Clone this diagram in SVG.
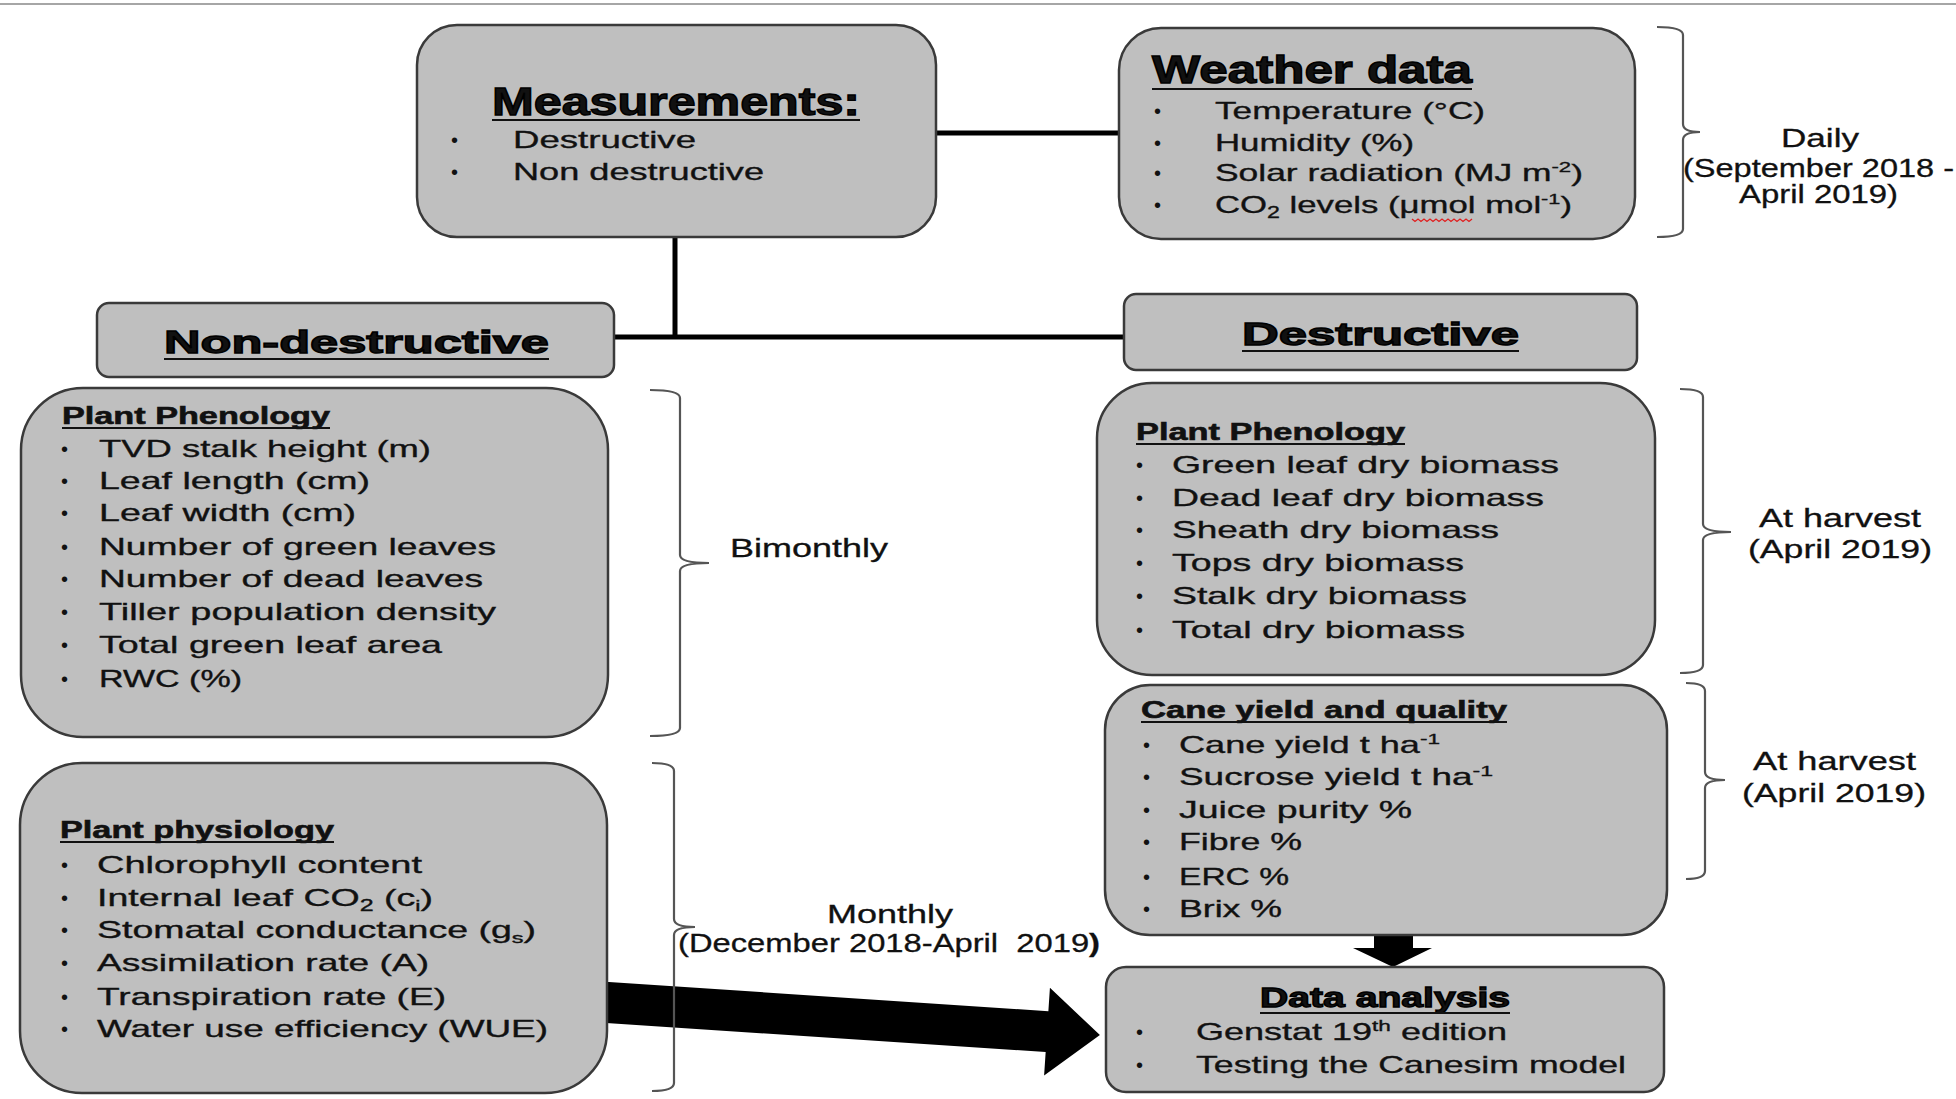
<svg xmlns="http://www.w3.org/2000/svg" width="1956" height="1099" viewBox="0 0 1956 1099">
<style>
.box{fill:#bfbfbf;stroke:#3a3a3a;stroke-width:2.5}
text{font-family:"Liberation Sans",Arial,Helvetica,sans-serif;fill:#111}
.it{font-size:24px;stroke:#111;stroke-width:0.35}
.bl{font-size:20px}
.h1{font-weight:bold;stroke:#000;stroke-width:1.3}
.sub{font-size:24px;font-weight:bold;stroke:#111;stroke-width:0.6}
.ul{stroke:#111;stroke-width:2}
.br{fill:none;stroke:#555;stroke-width:2.2}
.conn{stroke:#000;stroke-width:5;fill:none}
.lab{font-size:25px;stroke:#111;stroke-width:0.3}
.arrow{fill:#000}
</style>
<line x1="0" y1="4" x2="1956" y2="4" stroke="#a6a6a6" stroke-width="2"/>

<g id="connectors">
  <line class="conn" x1="936" y1="133" x2="1119" y2="133"/>
  <line class="conn" x1="675" y1="237" x2="675" y2="337"/>
  <line class="conn" x1="614" y1="337" x2="1124" y2="337"/>
  <polygon class="arrow" transform="translate(600,1002) rotate(3.79)" points="0,-20.5 448,-20.5 448,-44 501,0 448,44 448,20.5 0,20.5"/>
  <polygon class="arrow" points="1374,933 1413,933 1413,948 1432,948 1393,967 1353,948 1374,948"/>
</g>

<g id="measurements">
  <rect class="box" x="417" y="25" width="519" height="212" rx="40"/>
  <text class="h1" x="492" y="115" font-size="39" textLength="368" lengthAdjust="spacingAndGlyphs">Measurements:</text>
  <line class="ul" x1="492" y1="120" x2="860" y2="120"/>
  <text class="bl" x="451" y="147">•</text>
  <text class="bl" x="451" y="179">•</text>
  <text class="it" x="513" y="148" textLength="183" lengthAdjust="spacingAndGlyphs">Destructive</text>
  <text class="it" x="513" y="180" textLength="251" lengthAdjust="spacingAndGlyphs">Non destructive</text>
</g>

<g id="weather">
  <rect class="box" x="1119" y="28" width="516" height="211" rx="42"/>
  <text class="h1" x="1152" y="83" font-size="38" textLength="320" lengthAdjust="spacingAndGlyphs">Weather data</text>
  <line class="ul" x1="1152" y1="89" x2="1472" y2="89"/>
  <text class="bl" x="1154" y="118">•</text>
  <text class="bl" x="1154" y="150">•</text>
  <text class="bl" x="1154" y="180">•</text>
  <text class="bl" x="1154" y="212">•</text>
  <text class="it" x="1215" y="119" textLength="270" lengthAdjust="spacingAndGlyphs">Temperature (°C)</text>
  <text class="it" x="1215" y="151" textLength="199" lengthAdjust="spacingAndGlyphs">Humidity (%)</text>
  <text class="it" x="1215" y="181" textLength="368" lengthAdjust="spacingAndGlyphs">Solar radiation (MJ m<tspan dy="-9" font-size="15">-2</tspan><tspan dy="9">)</tspan></text>
  <text class="it" x="1215" y="213" textLength="357" lengthAdjust="spacingAndGlyphs">CO<tspan dy="5" font-size="16">2</tspan><tspan dy="-5"> levels (μmol mol</tspan><tspan dy="-9" font-size="15">-1</tspan><tspan dy="9">)</tspan></text>
  <path d="M1412 219 l3 2.5 l3 -2.5 l3 2.5 l3 -2.5 l3 2.5 l3 -2.5 l3 2.5 l3 -2.5 l3 2.5 l3 -2.5 l3 2.5 l3 -2.5 l3 2.5 l3 -2.5 l3 2.5 l3 -2.5 l3 2.5 l3 -2.5 l3 2.5 l3 -2.5" fill="none" stroke="#e02020" stroke-width="1.3"/>
</g>

<g id="daily-label">
  <path class="br" d="M1657,27 Q1683,27 1683,35 V124 Q1683,132 1700,132 Q1683,132 1683,140 V229 Q1683,237 1657,237"/>
  <text class="lab" x="1781" y="147" textLength="78" lengthAdjust="spacingAndGlyphs">Daily</text>
  <text class="lab" x="1683" y="177" textLength="271" lengthAdjust="spacingAndGlyphs">(September 2018 -</text>
  <text class="lab" x="1739" y="203" textLength="159" lengthAdjust="spacingAndGlyphs">April 2019)</text>
</g>

<g id="non-destructive">
  <rect class="box" x="97" y="303" width="517" height="74" rx="12"/>
  <text class="h1" x="164" y="353" font-size="32" textLength="385" lengthAdjust="spacingAndGlyphs">Non-destructive</text>
  <line class="ul" x1="164" y1="359" x2="549" y2="359"/>
</g>

<g id="destructive">
  <rect class="box" x="1124" y="294" width="513" height="76" rx="12"/>
  <text class="h1" x="1242" y="345" font-size="32" textLength="277" lengthAdjust="spacingAndGlyphs">Destructive</text>
  <line class="ul" x1="1242" y1="351" x2="1519" y2="351"/>
</g>

<g id="nd-phenology">
  <rect class="box" x="21" y="388" width="587" height="349" rx="62"/>
  <text class="sub" x="62" y="424" textLength="268" lengthAdjust="spacingAndGlyphs">Plant Phenology</text>
  <line class="ul" x1="62" y1="428" x2="330" y2="428"/>
  <text class="bl" x="61" y="456">•</text>
  <text class="bl" x="61" y="488">•</text>
  <text class="bl" x="61" y="520">•</text>
  <text class="bl" x="61" y="554">•</text>
  <text class="bl" x="61" y="586">•</text>
  <text class="bl" x="61" y="619">•</text>
  <text class="bl" x="61" y="652">•</text>
  <text class="bl" x="61" y="686">•</text>
  <text class="it" x="99" y="457" textLength="332" lengthAdjust="spacingAndGlyphs">TVD stalk height (m)</text>
  <text class="it" x="99" y="489" textLength="271" lengthAdjust="spacingAndGlyphs">Leaf length (cm)</text>
  <text class="it" x="99" y="521" textLength="257" lengthAdjust="spacingAndGlyphs">Leaf width (cm)</text>
  <text class="it" x="99" y="555" textLength="397" lengthAdjust="spacingAndGlyphs">Number of green leaves</text>
  <text class="it" x="99" y="587" textLength="384" lengthAdjust="spacingAndGlyphs">Number of dead leaves</text>
  <text class="it" x="99" y="620" textLength="397" lengthAdjust="spacingAndGlyphs">Tiller population density</text>
  <text class="it" x="99" y="653" textLength="343" lengthAdjust="spacingAndGlyphs">Total green leaf area</text>
  <text class="it" x="99" y="687" textLength="143" lengthAdjust="spacingAndGlyphs">RWC (%)</text>
</g>

<g id="bimonthly-label">
  <path class="br" d="M650,390 Q680,390 680,398 V555 Q680,563 709,563 Q680,563 680,571 V728 Q680,736 650,736"/>
  <text class="lab" x="730" y="557" textLength="158" lengthAdjust="spacingAndGlyphs">Bimonthly</text>
</g>

<g id="physiology">
  <rect class="box" x="20" y="763" width="587" height="330" rx="62"/>
  <text class="sub" x="60" y="838" textLength="274" lengthAdjust="spacingAndGlyphs">Plant physiology</text>
  <line class="ul" x1="60" y1="842" x2="334" y2="842"/>
  <text class="bl" x="61" y="872">•</text>
  <text class="bl" x="61" y="905">•</text>
  <text class="bl" x="61" y="937">•</text>
  <text class="bl" x="61" y="970">•</text>
  <text class="bl" x="61" y="1004">•</text>
  <text class="bl" x="61" y="1036">•</text>
  <text class="it" x="97" y="873" textLength="325" lengthAdjust="spacingAndGlyphs">Chlorophyll content</text>
  <text class="it" x="97" y="906" textLength="336" lengthAdjust="spacingAndGlyphs">Internal leaf CO<tspan dy="5" font-size="16">2</tspan><tspan dy="-5"> (c</tspan><tspan dy="5" font-size="15">i</tspan><tspan dy="-5">)</tspan></text>
  <text class="it" x="97" y="938" textLength="439" lengthAdjust="spacingAndGlyphs">Stomatal conductance (g<tspan dy="5" font-size="15">s</tspan><tspan dy="-5">)</tspan></text>
  <text class="it" x="97" y="971" textLength="332" lengthAdjust="spacingAndGlyphs">Assimilation rate (A)</text>
  <text class="it" x="97" y="1005" textLength="349" lengthAdjust="spacingAndGlyphs">Transpiration rate (E)</text>
  <text class="it" x="97" y="1037" textLength="451" lengthAdjust="spacingAndGlyphs">Water use efficiency (WUE)</text>
</g>

<g id="monthly-label">
  <path class="br" d="M652,763 Q674,763 674,771 V919 Q674,927 695,927 Q674,927 674,935 V1083 Q674,1091 652,1091"/>
  <text class="lab" x="827" y="923" textLength="126" lengthAdjust="spacingAndGlyphs">Monthly</text>
  <text class="lab" x="678" y="952" textLength="422" lengthAdjust="spacingAndGlyphs">(December 2018-April&#160; 2019<tspan font-weight="bold">)</tspan></text>
</g>

<g id="d-phenology">
  <rect class="box" x="1097" y="383" width="558" height="292" rx="55"/>
  <text class="sub" x="1136" y="440" textLength="269" lengthAdjust="spacingAndGlyphs">Plant Phenology</text>
  <line class="ul" x1="1136" y1="444" x2="1405" y2="444"/>
  <text class="bl" x="1136" y="472">•</text>
  <text class="bl" x="1136" y="505">•</text>
  <text class="bl" x="1136" y="537">•</text>
  <text class="bl" x="1136" y="570">•</text>
  <text class="bl" x="1136" y="603">•</text>
  <text class="bl" x="1136" y="637">•</text>
  <text class="it" x="1172" y="473" textLength="387" lengthAdjust="spacingAndGlyphs">Green leaf dry biomass</text>
  <text class="it" x="1172" y="506" textLength="372" lengthAdjust="spacingAndGlyphs">Dead leaf dry biomass</text>
  <text class="it" x="1172" y="538" textLength="327" lengthAdjust="spacingAndGlyphs">Sheath dry biomass</text>
  <text class="it" x="1172" y="571" textLength="292" lengthAdjust="spacingAndGlyphs">Tops dry biomass</text>
  <text class="it" x="1172" y="604" textLength="295" lengthAdjust="spacingAndGlyphs">Stalk dry biomass</text>
  <text class="it" x="1172" y="638" textLength="293" lengthAdjust="spacingAndGlyphs">Total dry biomass</text>
</g>

<g id="harvest-label-1">
  <path class="br" d="M1680,389 Q1703,389 1703,397 V524 Q1703,532 1731,532 Q1703,532 1703,540 V665 Q1703,673 1680,673"/>
  <text class="lab" x="1759" y="527" textLength="162" lengthAdjust="spacingAndGlyphs">At harvest</text>
  <text class="lab" x="1748" y="558" textLength="184" lengthAdjust="spacingAndGlyphs">(April 2019)</text>
</g>

<g id="cane-yield">
  <rect class="box" x="1105" y="685" width="562" height="250" rx="45"/>
  <text class="sub" x="1141" y="718" textLength="366" lengthAdjust="spacingAndGlyphs">Cane yield and quality</text>
  <line class="ul" x1="1141" y1="722" x2="1507" y2="722"/>
  <text class="bl" x="1143" y="752">•</text>
  <text class="bl" x="1143" y="784">•</text>
  <text class="bl" x="1143" y="817">•</text>
  <text class="bl" x="1143" y="849">•</text>
  <text class="bl" x="1143" y="884">•</text>
  <text class="bl" x="1143" y="916">•</text>
  <text class="it" x="1179" y="753" textLength="261" lengthAdjust="spacingAndGlyphs">Cane yield t ha<tspan dy="-9" font-size="15">-1</tspan></text>
  <text class="it" x="1179" y="785" textLength="314" lengthAdjust="spacingAndGlyphs">Sucrose yield t ha<tspan dy="-9" font-size="15">-1</tspan></text>
  <text class="it" x="1179" y="818" textLength="233" lengthAdjust="spacingAndGlyphs">Juice purity %</text>
  <text class="it" x="1179" y="850" textLength="123" lengthAdjust="spacingAndGlyphs">Fibre %</text>
  <text class="it" x="1179" y="885" textLength="110" lengthAdjust="spacingAndGlyphs">ERC %</text>
  <text class="it" x="1179" y="917" textLength="103" lengthAdjust="spacingAndGlyphs">Brix %</text>
</g>

<g id="harvest-label-2">
  <path class="br" d="M1686,683 Q1705,683 1705,691 V772 Q1705,780 1725,780 Q1705,780 1705,788 V871 Q1705,879 1686,879"/>
  <text class="lab" x="1753" y="770" textLength="163" lengthAdjust="spacingAndGlyphs">At harvest</text>
  <text class="lab" x="1742" y="802" textLength="184" lengthAdjust="spacingAndGlyphs">(April 2019)</text>
</g>

<g id="data-analysis">
  <rect class="box" x="1106" y="967" width="558" height="125" rx="20"/>
  <text class="h1" x="1260" y="1007" font-size="28" textLength="250" lengthAdjust="spacingAndGlyphs">Data analysis</text>
  <line class="ul" x1="1260" y1="1013" x2="1510" y2="1013"/>
  <text class="bl" x="1136" y="1039">•</text>
  <text class="bl" x="1136" y="1072">•</text>
  <text class="it" x="1196" y="1040" textLength="311" lengthAdjust="spacingAndGlyphs">Genstat 19<tspan dy="-9" font-size="15">th</tspan><tspan dy="9"> edition</tspan></text>
  <text class="it" x="1196" y="1073" textLength="430" lengthAdjust="spacingAndGlyphs">Testing the Canesim model</text>
</g>
</svg>
